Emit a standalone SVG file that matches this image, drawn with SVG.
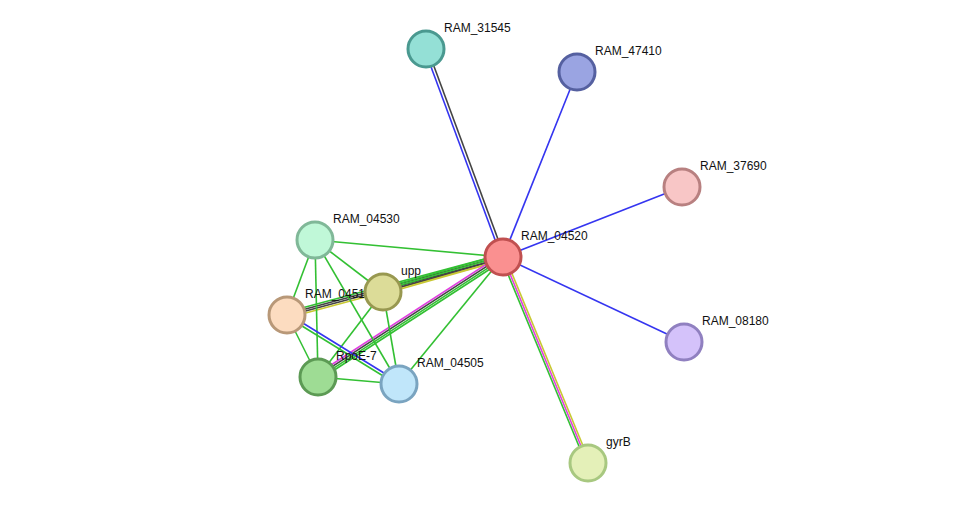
<svg xmlns="http://www.w3.org/2000/svg" width="975" height="509" viewBox="0 0 975 509">
<style>
line{stroke-width:1.6}
.g{stroke:#33c033}.b{stroke:#3535f0}.k{stroke:#444}.m{stroke:#e040e0}.y{stroke:#c8c832}
circle{stroke-width:3}
text{font-family:"Liberation Sans",Arial,sans-serif;font-size:12px;fill:#111}
</style>
<rect width="975" height="509" fill="#fff"/>
<g id="edges">
<line class="b" x1="424.6" y1="49.5" x2="501.6" y2="257.5"/>
<line class="k" x1="427.4" y1="48.5" x2="504.4" y2="256.5"/>
<line class="b" x1="503" y1="257" x2="577" y2="72"/>
<line class="b" x1="503" y1="257" x2="682" y2="187"/>
<line class="b" x1="503" y1="257" x2="684" y2="342"/>
<line class="g" x1="501.2" y1="257.8" x2="586.2" y2="463.8"/>
<line class="m" x1="503" y1="257" x2="588" y2="463"/>
<line class="y" x1="504.8" y1="256.2" x2="589.8" y2="462.2"/>
<line class="g" x1="315" y1="240" x2="503" y2="257"/>
<line class="g" x1="287" y1="312" x2="503" y2="254"/>
<line class="k" x1="287" y1="314" x2="503" y2="256"/>
<line class="k" x1="287" y1="316" x2="503" y2="258"/>
<line class="y" x1="287" y1="318" x2="503" y2="260"/>
<line class="g" x1="383" y1="288" x2="503" y2="254"/>
<line class="g" x1="383" y1="290" x2="503" y2="256"/>
<line class="k" x1="383" y1="292" x2="503" y2="258"/>
<line class="y" x1="383" y1="294" x2="503" y2="260"/>
<line class="m" x1="316.4" y1="374.5" x2="501.4" y2="254.5"/>
<line class="k" x1="317.5" y1="376.2" x2="502.5" y2="256.2"/>
<line class="g" x1="318.6" y1="377.8" x2="503.6" y2="257.8"/>
<line class="g" x1="319.7" y1="379.5" x2="504.7" y2="259.5"/>
<line class="g" x1="399" y1="384" x2="503" y2="257"/>
<line class="g" x1="315" y1="240" x2="383" y2="292"/>
<line class="g" x1="315" y1="240" x2="287" y2="315"/>
<line class="g" x1="315" y1="240" x2="318" y2="377"/>
<line class="g" x1="315" y1="240" x2="399" y2="384"/>
<line class="g" x1="383" y1="292" x2="318" y2="377"/>
<line class="g" x1="383" y1="292" x2="399" y2="384"/>
<line class="g" x1="287" y1="315" x2="318" y2="377"/>
<line class="b" x1="287.8" y1="313.7" x2="399.8" y2="382.7"/>
<line class="g" x1="286.2" y1="316.3" x2="398.2" y2="385.3"/>
<line class="g" x1="318" y1="377" x2="399" y2="384"/>
</g>
<g id="n_RAM_31545"><circle cx="426" cy="49" r="18" fill="#94e0d6" stroke="#4a9990"/><text x="444" y="32">RAM_31545</text></g>
<g id="n_RAM_47410"><circle cx="577" cy="72" r="18" fill="#9aa4e2" stroke="#5560a0"/><text x="595" y="55">RAM_47410</text></g>
<g id="n_RAM_37690"><circle cx="682" cy="187" r="18" fill="#f8c6c6" stroke="#b88080"/><text x="700" y="170">RAM_37690</text></g>
<g id="n_RAM_08180"><circle cx="684" cy="342" r="18" fill="#d4c2fa" stroke="#9080c0"/><text x="702" y="325">RAM_08180</text></g>
<g id="n_gyrB"><circle cx="588" cy="463" r="18" fill="#e4f0b8" stroke="#a8c880"/><text x="606" y="446">gyrB</text></g>
<g id="n_RAM_04530"><circle cx="315" cy="240" r="18" fill="#c0f8d8" stroke="#80b898"/><text x="333" y="223">RAM_04530</text></g>
<g id="n_RAM_0451"><circle cx="287" cy="315" r="18" fill="#fcdcc0" stroke="#b89878"/><text x="305" y="298">RAM_0451</text></g>
<g id="n_upp"><circle cx="383" cy="292" r="18" fill="#dcdc98" stroke="#989850"/><text x="401" y="275">upp</text></g>
<g id="n_RpoE-7"><circle cx="318" cy="377" r="18" fill="#9edc94" stroke="#5c9a54"/><text x="336" y="360">RpoE-7</text></g>
<g id="n_RAM_04505"><circle cx="399" cy="384" r="18" fill="#c0e6fa" stroke="#7aa4c0"/><text x="417" y="367">RAM_04505</text></g>
<g id="n_RAM_04520"><circle cx="503" cy="257" r="18" fill="#fa9090" stroke="#c05050"/><text x="521" y="240">RAM_04520</text></g>
</svg>
